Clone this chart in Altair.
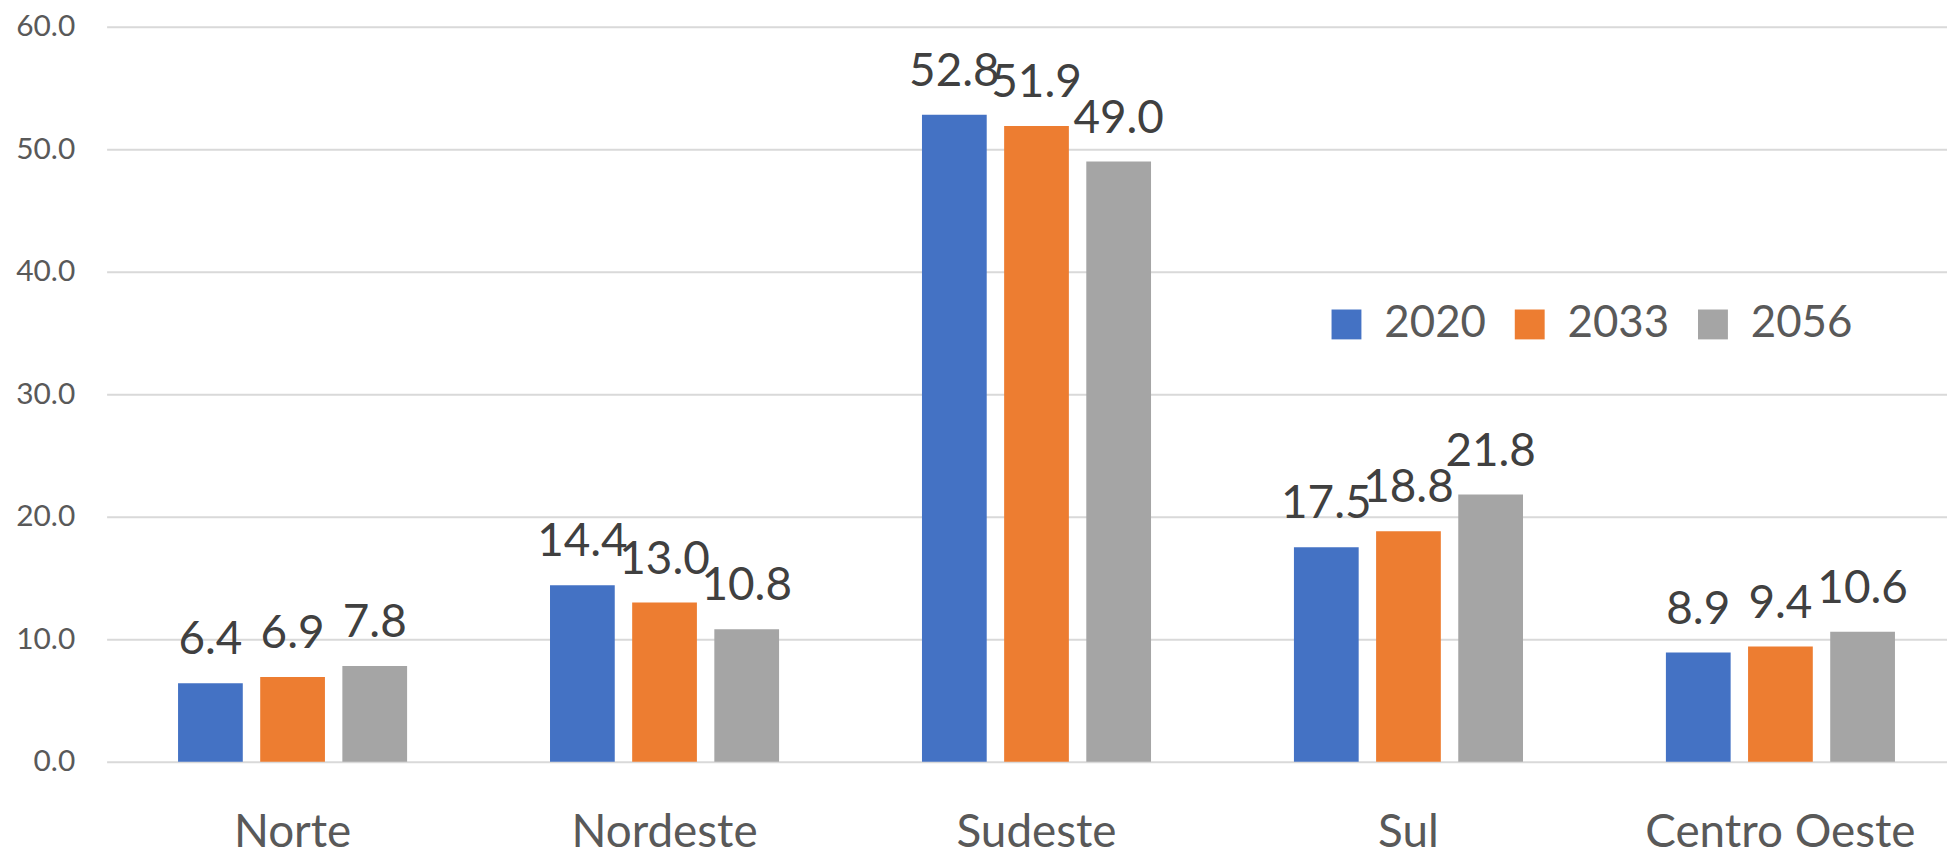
import altair as alt
import pandas as pd

regions = ["Norte", "Nordeste", "Sudeste", "Sul", "Centro Oeste"]
years = ["2020", "2033", "2056"]
v2020 = [6.4, 14.4, 52.8, 17.5, 8.9]
v2033 = [6.9, 13.0, 51.9, 18.8, 9.4]
v2056 = [7.8, 10.8, 49.0, 21.8, 10.6]
colors = ["#4472C4", "#ED7D31", "#A5A5A5"]
y_ticks = [0, 10, 20, 30, 40, 50, 60]

rows = []
for yr, vals in zip(years, [v2020, v2033, v2056]):
    for reg, v in zip(regions, vals):
        rows.append({"region": reg, "year": yr, "value": v})
df = pd.DataFrame(rows)

FONT = "Lato"

base = alt.Chart(df).encode(
    x=alt.X(
        "region:N",
        sort=regions,
        title=None,
        scale=alt.Scale(paddingInner=0.3842, paddingOuter=0.166, align=0.5786),
        axis=alt.Axis(
            domain=False,
            ticks=False,
            labelAngle=0,
            labelFont=FONT,
            labelFontSize=46,
            labelColor="#595959",
            labelPadding=85,
            labelBaseline="alphabetic",
            labelLimit=0,
            grid=False,
        ),
    ),
    xOffset=alt.XOffset(
        "year:N", sort=years, scale=alt.Scale(paddingInner=0.212, paddingOuter=0)
    ),
    y=alt.Y(
        "value:Q",
        title=None,
        scale=alt.Scale(domain=[0, 60], nice=False, zero=True),
        axis=alt.Axis(
            values=y_ticks,
            format=".1f",
            domain=False,
            ticks=False,
            labelFont=FONT,
            labelFontSize=30,
            labelColor="#595959",
            labelPadding=32,
            grid=True,
            gridColor="#D9D9D9",
            gridWidth=2,
        ),
    ),
)

bars = base.mark_bar().encode(
    color=alt.Color(
        "year:N",
        sort=years,
        scale=alt.Scale(domain=years, range=colors),
        legend=alt.Legend(
            title=None,
            orient="none",
            direction="horizontal",
            legendX=1223,
            legendY=277,
            padding=0,
            symbolType="square",
            symbolSize=900,
            symbolStrokeWidth=0,
            labelFont=FONT,
            labelFontSize=44,
            labelColor="#595959",
            labelOffset=16,
            columnPadding=21,
        ),
    )
)

labels = base.mark_text(
    dy=-29, baseline="alphabetic", align="center", font=FONT, fontSize=46, color="#404040"
).encode(text=alt.Text("value:Q", format=".1f"))

chart = (
    alt.layer(bars, labels)
    .properties(
        width=1848,
        height=738,
        padding={"left": 99, "top": 17, "right": 0, "bottom": 95},
        autosize=alt.AutoSizeParams(type="none"),
        background="white",
    )
    .configure_view(stroke=None)
)

chart.save("out.html", embed_options={"renderer": "svg", "actions": False})
